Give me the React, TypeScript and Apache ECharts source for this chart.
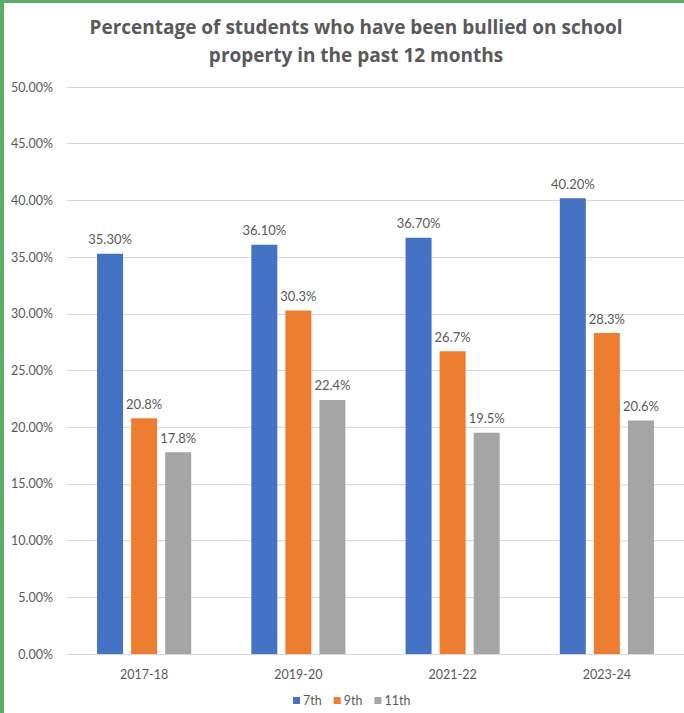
import React, { useEffect, useRef } from "react";
import * as echarts from "echarts";

const categories = ["2017-18", "2019-20", "2021-22", "2023-24"];
const seriesNames = ["7th", "9th", "11th"];
const values7th = [35.3, 36.1, 36.7, 40.2];
const values9th = [20.8, 30.3, 26.7, 28.3];
const values11th = [17.8, 22.4, 19.5, 20.6];
const labelDecimals = [2, 1, 1];
const colors = ["#4472c4", "#ed7d31", "#a5a5a5"];
const titleText = "Percentage of students who have been bullied on school\nproperty in the past 12 months";

export default function App() {
  const ref = useRef<HTMLDivElement>(null);
  useEffect(() => {
    if (!ref.current) return;
    const chart = echarts.init(ref.current, null, { renderer: "svg" });
    const font = "Lato, 'Open Sans', sans-serif";
    const all = [values7th, values9th, values11th];
    chart.setOption({
      animation: false,
      backgroundColor: "#ffffff",
      textStyle: { fontFamily: font },
      title: {
        text: titleText,
        left: 351,
        top: 8,
        textAlign: "center",
        textStyle: { fontFamily: "'Open Sans', sans-serif", fontSize: 19, fontWeight: "bold", color: "#595959", lineHeight: 28 },
      },
      legend: {
        top: 694,
        left: 293,
        padding: 0,
        itemWidth: 7,
        itemHeight: 7,
        itemGap: 12,
        icon: "rect",
        textStyle: { fontFamily: font, fontSize: 12.5, color: "#595959", padding: [0, 0, 0, -2] },
        data: seriesNames,
      },
      grid: { left: 67, right: 0, top: 87, bottom: 59 },
      xAxis: {
        type: "category",
        data: categories,
        axisLine: { lineStyle: { color: "#d9d9d9" } },
        axisTick: { show: false },
        axisLabel: { color: "#595959", fontSize: 12.5, margin: 14, fontFamily: font },
      },
      yAxis: {
        type: "value",
        min: 0,
        max: 50,
        interval: 5,
        axisLine: { show: false },
        axisTick: { show: false },
        splitLine: { lineStyle: { color: "#d9d9d9", width: 1 } },
        axisLabel: {
          color: "#595959",
          fontSize: 12.5,
          margin: 14,
          fontFamily: font,
          formatter: (v: number) => v.toFixed(2) + "%",
        },
      },
      series: seriesNames.map((name, i) => ({
        name,
        type: "bar",
        data: all[i],
        barWidth: 26,
        barGap: "31%",
        itemStyle: { color: colors[i] },
        label: {
          show: true,
          position: "top",
          distance: 8,
          color: "#595959",
          fontSize: 13,
          fontFamily: font,
          formatter: (p: any) => p.value.toFixed(labelDecimals[i]) + "%",
        },
      })),
      graphic: [
        { type: "rect", left: 0, top: 0, shape: { width: 4, height: 713 }, style: { fill: "#5cad67" }, z: 100 },
        { type: "rect", left: 0, top: 0, shape: { width: 684, height: 3 }, style: { fill: "#5cad67" }, z: 100 },
      ],
    });
    return () => chart.dispose();
  }, []);
  return <div ref={ref} style={{ position: "fixed", left: 0, top: 0, width: 684, height: 713 }} />;
}
